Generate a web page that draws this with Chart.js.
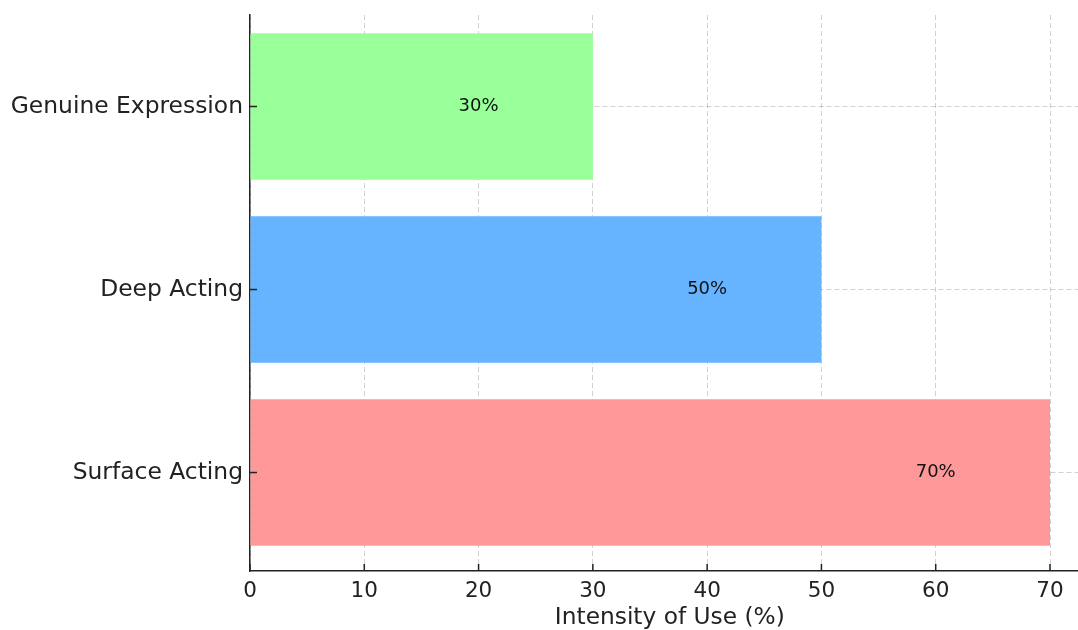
<!DOCTYPE html>
<html lang="en">
<head>
    <meta charset="UTF-8">
    <script src="https://cdn.jsdelivr.net/npm/chart.js"></script>
    <style>
        html, body { margin: 0; padding: 0; background: #fff; }
        #wrap { width: 1078px; height: 630px; }
    </style>
</head>
<body>
    <div id="wrap"><canvas id="strategyChart" width="1078" height="630"></canvas></div>
    <script>
        // Chart data
        const categories = ['Genuine Expression', 'Deep Acting', 'Surface Acting'];
        const intensity = [30, 50, 70];
        const barColors = ['#99ff99', '#66b3ff', '#ff9999'];
        const xTicks = [0, 10, 20, 30, 40, 50, 60, 70];

        const FONT = 'DejaVu Sans';

        // bar values and small inward tick marks
        const extrasPlugin = {
            id: 'extras',
            afterDraw(chart) {
                const ctx = chart.ctx;
                const xs = chart.scales.x;
                const ys = chart.scales.y;
                const area = chart.chartArea;
                ctx.save();
                ctx.strokeStyle = '#222';
                ctx.lineWidth = 1.5;
                xTicks.forEach(v => {
                    const px = xs.getPixelForValue(v);
                    ctx.beginPath();
                    ctx.moveTo(px, area.bottom);
                    ctx.lineTo(px, area.bottom - 7);
                    ctx.stroke();
                });
                categories.forEach((c, i) => {
                    const py = ys.getPixelForValue(i);
                    ctx.beginPath();
                    ctx.moveTo(area.left, py);
                    ctx.lineTo(area.left + 7, py);
                    ctx.stroke();
                });
                // value labels
                ctx.fillStyle = '#111';
                ctx.font = '18px "' + FONT + '"';
                ctx.textAlign = 'center';
                ctx.textBaseline = 'middle';
                intensity.forEach((v, i) => {
                    const px = xs.getPixelForValue(v - 10);
                    const py = ys.getPixelForValue(i);
                    ctx.fillText(v + '%', px, py);
                });
                ctx.restore();
            }
        };

        const gridStyle = {
            color: 'rgba(0,0,0,0.18)',
            lineWidth: 1,
            drawTicks: false,
            offset: false
        };
        const borderStyle = { display: true, color: '#222', width: 1.5, dash: [5, 3] };

        new Chart(document.getElementById('strategyChart'), {
            type: 'bar',
            data: {
                datasets: [{
                    data: intensity.map((v, i) => ({ x: v, y: i })),
                    backgroundColor: barColors,
                    borderWidth: 0,
                    categoryPercentage: 0.8,
                    barPercentage: 1.0
                }]
            },
            options: {
                indexAxis: 'y',
                responsive: false,
                animation: false,
                layout: { padding: { top: 15, left: 0, right: 0, bottom: 0 } },
                plugins: {
                    legend: { display: false },
                    tooltip: { enabled: false }
                },
                scales: {
                    x: {
                        type: 'linear',
                        min: 0,
                        max: 72.45,
                        offset: false,
                        z: 1,
                        afterBuildTicks: scale => { scale.ticks = xTicks.map(v => ({ value: v })); },
                        afterFit: scale => { scale.height = 59; scale.paddingLeft = 0; scale.paddingRight = 0; },
                        grid: gridStyle,
                        border: borderStyle,
                        ticks: {
                            color: '#222',
                            padding: 8,
                            font: { family: FONT, size: 21.5 }
                        },
                        title: {
                            display: true,
                            // en space nudges the title right (plot runs past the crop)
                            text: '\u2002Intensity of Use (%)',
                            color: '#222',
                            padding: { top: 0, bottom: -2 },
                            font: { family: FONT, size: 23.3 }
                        }
                    },
                    y: {
                        type: 'linear',
                        reverse: true,
                        min: -0.5,
                        max: 2.538,
                        offset: false,
                        z: 1,
                        afterBuildTicks: scale => { scale.ticks = categories.map((c, i) => ({ value: i })); },
                        afterFit: scale => { scale.width = 250; scale.paddingTop = 0; scale.paddingBottom = 0; },
                        grid: gridStyle,
                        border: borderStyle,
                        ticks: {
                            color: '#222',
                            padding: 7,
                            autoSkip: false,
                            font: { family: FONT, size: 23.4 },
                            callback: v => categories[v]
                        }
                    }
                }
            },
            plugins: [extrasPlugin]
        });
    </script>
</body>
</html>
